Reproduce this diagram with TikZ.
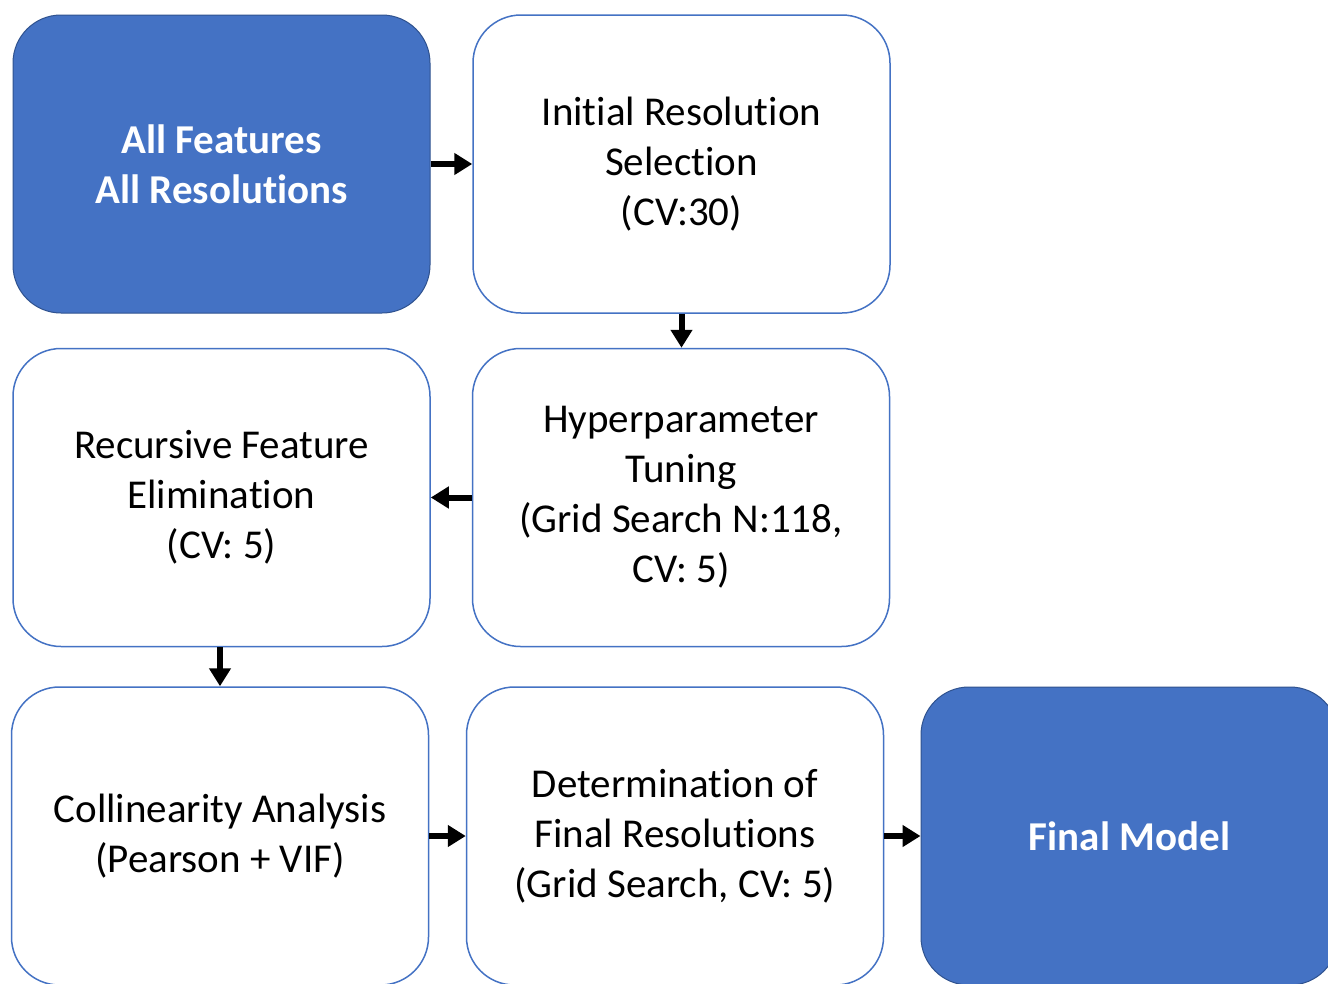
\documentclass[tikz,border=0pt]{standalone}
\usepackage{fontspec}
\setmainfont{Carlito}[Ligatures=NoCommon]
\usetikzlibrary{arrows.meta}
\definecolor{accent}{HTML}{4472C4}
\definecolor{accentdark}{HTML}{2F528F}
\tikzset{
  stage/.style={draw=accent, line width=1.5pt, fill=white, rounded corners=48pt,
    minimum width=417pt, minimum height=298pt, inner sep=0pt, align=center,
    font=\fontsize{41}{50}\selectfont, text=black},
  keystage/.style={stage, draw=accentdark, line width=1pt, fill=accent, text=white,
    font=\fontsize{41}{50}\selectfont\bfseries},
  flow/.style={draw=black, line width=6pt, -{Triangle[length=18pt,width=21pt]}}
}
\begin{document}
\begin{tikzpicture}[x=1pt,y=-1pt]
  \useasboundingbox[clip] (0,0) rectangle (1328,983);
  \fill[white] (0,0) rectangle (1328,983);
  % top row
  \node[keystage] (all) at (221.5,164) {All Features\\All Resolutions};
  \node[stage] (init) at (681.5,164) {Initial Resolution\\Selection\\(CV:30)};
  % middle row
  \node[stage] (hyper) at (681,497.5) {Hyperparameter\\Tuning\\(Grid Search N:118,\\CV: 5)};
  \node[stage] (rfe) at (221.5,497.5) {Recursive Feature\\Elimination\\(CV: 5)};
  % bottom row
  \node[stage] (coll) at (220,836) {Collinearity Analysis\\(Pearson + VIF)};
  \node[stage] (final) at (675,836) {Determination of\\Final Resolutions\\(Grid Search, CV: 5)};
  \node[keystage] (model) at (1129.5,836) {Final Model};
  % connectors
  \draw[flow] (all.east) -- (init.west);
  \draw[flow] (init.south) -- (init.south |- hyper.north);
  \draw[flow] (hyper.west) -- (rfe.east);
  \draw[flow] (rfe.south -| coll.north) -- (coll.north);
  \draw[flow] (coll.east) -- (final.west);
  \draw[flow] (final.east) -- (model.west);
\end{tikzpicture}
\end{document}
